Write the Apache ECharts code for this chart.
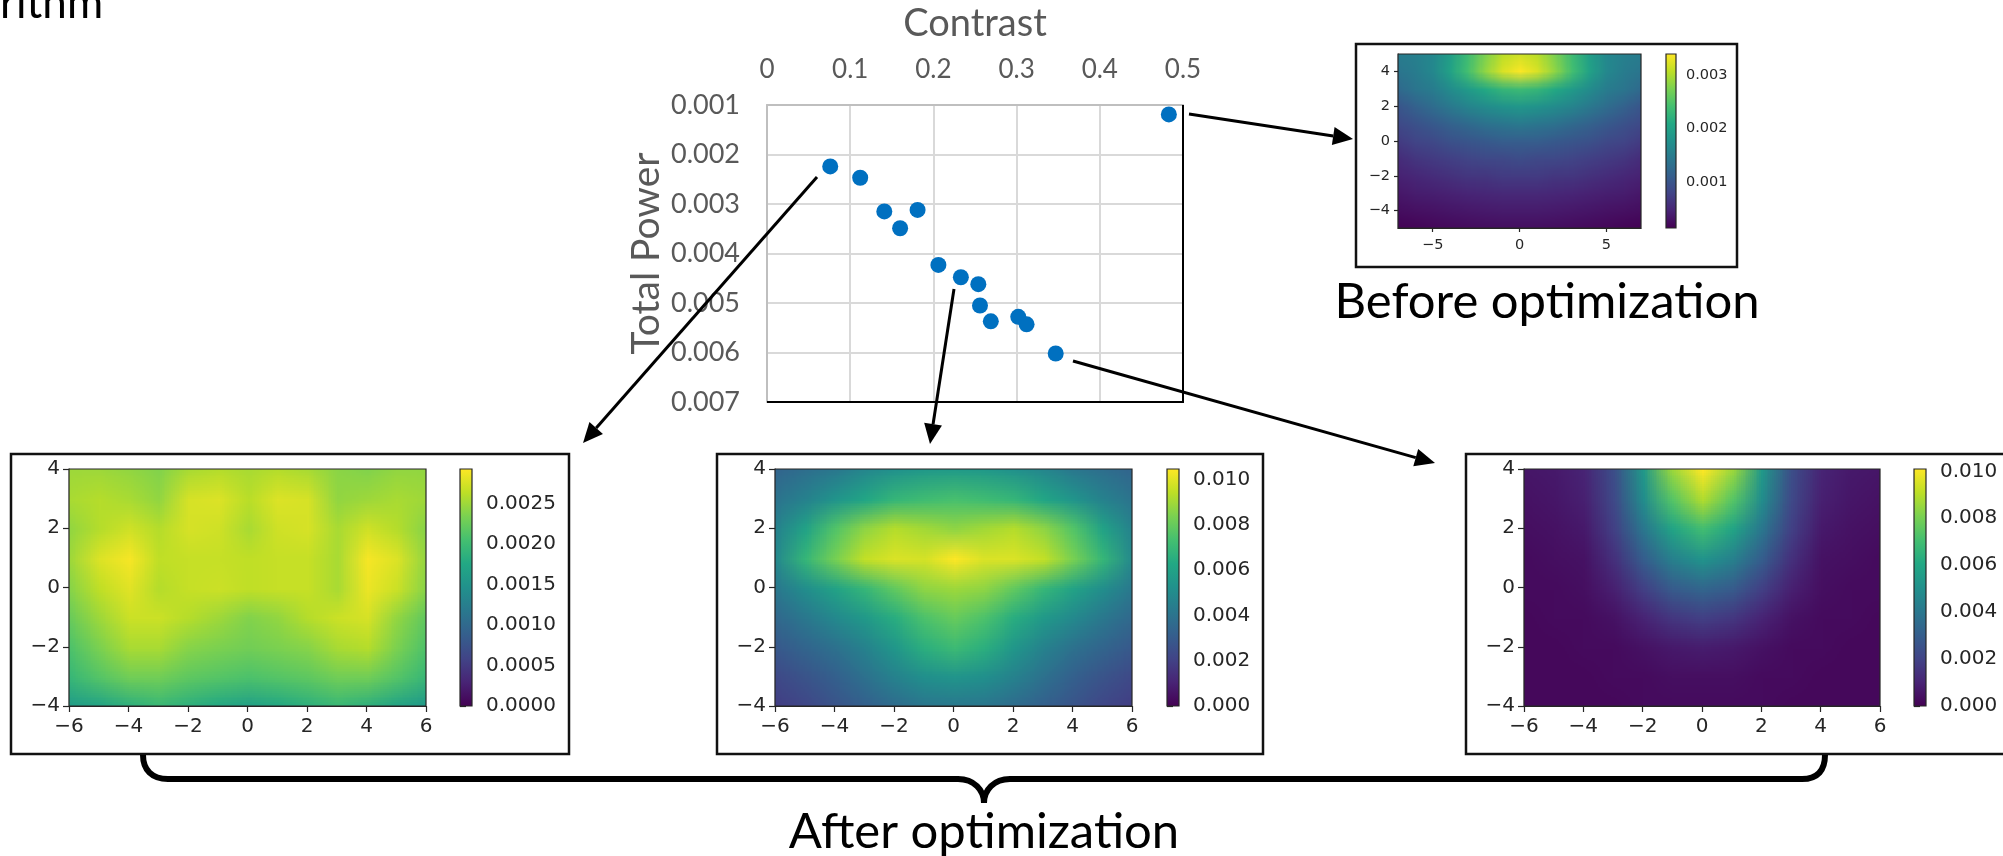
<!DOCTYPE html>
<html>
<head>
<meta charset="utf-8">
<style>
  html, body { margin: 0; padding: 0; background: #fff; overflow: hidden; }
  #main { width: 2003px; height: 856px; }
</style>
<script src="https://cdn.jsdelivr.net/npm/echarts@6/dist/echarts.min.js"></script>
</head>
<body>
<div id="main"></div>
<script>
// scatter: contrast vs total power
const contrast = [0.076, 0.112, 0.141, 0.181, 0.160, 0.206, 0.233, 0.254, 0.256, 0.269, 0.302, 0.312, 0.347, 0.483];
const totalPower = [0.00224, 0.00247, 0.00315, 0.00312, 0.00349, 0.00423, 0.00448, 0.00462, 0.00505, 0.00537, 0.00528, 0.00543, 0.00602, 0.00119];

// intensity maps, in units of 0.001, top row first
const xNodes = [-6, -5, -4, -3, -2, -1, 0, 1, 2, 3, 4, 5, 6];
const yNodes = [4, 3, 2, 1, 0, -1, -2, -3, -4];
const mapLeft = [
  [2.50, 2.50, 2.45, 2.38, 2.55, 2.60, 2.55, 2.60, 2.55, 2.42, 2.38, 2.45, 2.45],
  [2.55, 2.60, 2.55, 2.45, 2.75, 2.78, 2.62, 2.78, 2.75, 2.45, 2.50, 2.55, 2.50],
  [2.45, 2.60, 2.72, 2.60, 2.75, 2.72, 2.55, 2.72, 2.75, 2.55, 2.72, 2.60, 2.40],
  [2.50, 2.78, 2.90, 2.65, 2.68, 2.68, 2.65, 2.68, 2.68, 2.55, 2.90, 2.78, 2.45],
  [2.40, 2.65, 2.80, 2.60, 2.68, 2.70, 2.65, 2.68, 2.68, 2.55, 2.85, 2.70, 2.40],
  [2.25, 2.50, 2.70, 2.70, 2.60, 2.50, 2.38, 2.45, 2.60, 2.70, 2.75, 2.45, 2.20],
  [2.10, 2.35, 2.55, 2.55, 2.40, 2.35, 2.30, 2.35, 2.40, 2.55, 2.60, 2.35, 2.10],
  [1.95, 2.15, 2.30, 2.30, 2.20, 2.15, 2.10, 2.15, 2.20, 2.30, 2.30, 2.15, 1.95],
  [1.60, 1.70, 1.85, 1.95, 1.85, 1.75, 1.65, 1.75, 1.85, 1.95, 1.85, 1.70, 1.55]
];
const mapMiddle = [
  [3.4, 3.8, 4.2, 4.8, 5.3, 5.6, 5.7, 5.6, 5.3, 4.8, 4.2, 3.8, 3.4],
  [4.0, 4.6, 5.4, 6.2, 6.9, 7.2, 7.4, 7.2, 6.9, 6.2, 5.4, 4.6, 4.0],
  [4.6, 6.0, 7.6, 8.7, 9.3, 9.0, 8.7, 9.0, 9.3, 8.7, 7.6, 6.0, 4.6],
  [4.9, 6.9, 8.3, 9.5, 9.9, 9.8, 10.45, 9.9, 9.9, 9.5, 8.3, 6.9, 4.9],
  [4.2, 5.1, 6.0, 6.9, 7.9, 8.7, 8.9, 8.7, 7.9, 6.9, 6.0, 5.1, 4.2],
  [3.5, 4.2, 4.9, 5.6, 6.5, 7.5, 8.0, 7.5, 6.5, 5.6, 4.9, 4.2, 3.5],
  [2.9, 3.4, 3.9, 4.6, 5.5, 6.6, 7.1, 6.6, 5.5, 4.6, 3.9, 3.4, 2.9],
  [2.3, 2.7, 3.2, 3.9, 4.6, 5.2, 5.4, 5.2, 4.6, 3.9, 3.2, 2.7, 2.3],
  [1.9, 2.2, 2.7, 3.2, 3.7, 4.1, 4.2, 4.1, 3.7, 3.2, 2.7, 2.2, 1.9]
];
const mapRight = [
  [0.6, 0.7, 1.0, 2.4, 5.4, 8.6, 10.1, 8.6, 5.4, 2.4, 1.0, 0.7, 0.6],
  [0.5, 0.6, 0.9, 2.2, 4.9, 7.4, 8.9, 7.4, 4.9, 2.2, 0.9, 0.6, 0.5],
  [0.4, 0.5, 0.7, 1.9, 4.0, 5.9, 7.0, 5.9, 4.0, 1.9, 0.7, 0.5, 0.4],
  [0.3, 0.4, 0.5, 1.4, 3.0, 4.4, 5.2, 4.4, 3.0, 1.4, 0.5, 0.4, 0.3],
  [0.3, 0.3, 0.4, 0.9, 1.9, 2.9, 3.3, 2.9, 1.9, 0.9, 0.4, 0.3, 0.3],
  [0.2, 0.3, 0.3, 0.5, 1.0, 1.6, 1.9, 1.6, 1.0, 0.5, 0.3, 0.3, 0.2],
  [0.2, 0.2, 0.3, 0.3, 0.5, 0.7, 0.8, 0.7, 0.5, 0.3, 0.3, 0.2, 0.2],
  [0.2, 0.2, 0.2, 0.3, 0.3, 0.4, 0.4, 0.4, 0.3, 0.3, 0.2, 0.2, 0.2],
  [0.2, 0.2, 0.2, 0.2, 0.3, 0.3, 0.3, 0.3, 0.3, 0.2, 0.2, 0.2, 0.2]
];
const xNodesBefore = [-7, -6, -5, -4, -3, -2, -1, 0, 1, 2, 3, 4, 5, 6, 7];
const yNodesBefore = [5, 4, 3, 2, 1, 0, -1, -2, -3, -4, -5];
const mapBefore = [
  [1.50, 1.55, 1.65, 1.95, 2.35, 2.75, 3.05, 3.15, 3.05, 2.75, 2.35, 1.95, 1.65, 1.55, 1.50],
  [1.40, 1.50, 1.65, 2.00, 2.40, 2.85, 3.20, 3.38, 3.20, 2.85, 2.40, 2.00, 1.65, 1.50, 1.40],
  [1.25, 1.40, 1.50, 1.70, 1.90, 2.10, 2.28, 2.35, 2.28, 2.10, 1.90, 1.70, 1.50, 1.40, 1.25],
  [1.00, 1.15, 1.30, 1.45, 1.60, 1.70, 1.80, 1.85, 1.80, 1.70, 1.60, 1.45, 1.30, 1.15, 1.00],
  [0.85, 0.95, 1.05, 1.15, 1.25, 1.35, 1.40, 1.45, 1.40, 1.35, 1.25, 1.15, 1.05, 0.95, 0.85],
  [0.70, 0.80, 0.85, 0.95, 1.00, 1.05, 1.10, 1.10, 1.10, 1.05, 1.00, 0.95, 0.85, 0.80, 0.70],
  [0.55, 0.65, 0.70, 0.75, 0.80, 0.85, 0.85, 0.90, 0.85, 0.85, 0.80, 0.75, 0.70, 0.65, 0.55],
  [0.45, 0.50, 0.55, 0.60, 0.65, 0.65, 0.70, 0.70, 0.70, 0.65, 0.65, 0.60, 0.55, 0.50, 0.45],
  [0.35, 0.40, 0.42, 0.45, 0.48, 0.50, 0.52, 0.52, 0.52, 0.50, 0.48, 0.45, 0.42, 0.40, 0.35],
  [0.25, 0.28, 0.30, 0.33, 0.35, 0.37, 0.38, 0.38, 0.38, 0.37, 0.35, 0.33, 0.30, 0.28, 0.25],
  [0.15, 0.17, 0.20, 0.22, 0.24, 0.25, 0.26, 0.26, 0.26, 0.25, 0.24, 0.22, 0.20, 0.17, 0.15]
];

// colour bar ranges and ticks
const rangeLeft = [0, 2.93];
const rangeMiddle = [0, 10.47];
const rangeRight = [0, 10.1];
const rangeBefore = [0.143, 3.39];
const ticksLeft = [0, 0.5, 1, 1.5, 2, 2.5];
const ticksMiddle = [0, 2, 4, 6, 8, 10];
const ticksRight = [0, 2, 4, 6, 8, 10];
const ticksBefore = [1, 2, 3];

const viridis = ['#440154', '#482475', '#414487', '#355f8d', '#2a788e', '#21918c', '#22a884', '#44bf70', '#7ad151', '#bddf26', '#fde725'];
const minus = v => String(v).replace('-', '\u2212');

// matplotlib panels. box is the white frame, plot and bar are the axes rects
const panels = [
  { values: mapLeft, xs: xNodes, ys: yNodes, range: rangeLeft, ticks: ticksLeft, digits: 4,
    xTicks: [-6, -4, -2, 0, 2, 4, 6], yTicks: [-4, -2, 0, 2, 4],
    box: [11, 454, 558, 300], plot: [69, 469, 357, 237], bar: [460, 469, 12, 237], font: 20, tick: 6, gap: 9, barGap: 14 },
  { values: mapMiddle, xs: xNodes, ys: yNodes, range: rangeMiddle, ticks: ticksMiddle, digits: 3,
    xTicks: [-6, -4, -2, 0, 2, 4, 6], yTicks: [-4, -2, 0, 2, 4],
    box: [717, 454, 546, 300], plot: [775, 469, 357, 237], bar: [1167, 469, 12, 237], font: 20, tick: 6, gap: 9, barGap: 14 },
  { values: mapRight, xs: xNodes, ys: yNodes, range: rangeRight, ticks: ticksRight, digits: 3,
    xTicks: [-6, -4, -2, 0, 2, 4, 6], yTicks: [-4, -2, 0, 2, 4],
    box: [1466, 454, 560, 300], plot: [1524, 469, 356, 237], bar: [1914, 469, 12, 237], font: 20, tick: 6, gap: 9, barGap: 14 },
  { values: mapBefore, xs: xNodesBefore, ys: yNodesBefore, range: rangeBefore, ticks: ticksBefore, digits: 3,
    xTicks: [-5, 0, 5], yTicks: [-4, -2, 0, 2, 4],
    box: [1356, 44, 381, 223], plot: [1398, 54, 243, 174], bar: [1666, 54, 10, 174], font: 14.5, tick: 4, gap: 8, barGap: 10 }
];

// one small canvas per map, a pixel per value; the browser smooths it when scaled up
function valueCanvas(p) {
  const canvas = document.createElement('canvas');
  canvas.width = p.xs.length;
  canvas.height = p.ys.length;
  const ctx = canvas.getContext('2d');
  p.values.forEach((row, j) => {
    row.forEach((v, i) => {
      const t = (v - p.range[0]) / (p.range[1] - p.range[0]);
      ctx.fillStyle = echarts.color.lerp(Math.min(1, Math.max(0, t)), viridis);
      ctx.fillRect(i, j, 1, 1);
    });
  });
  return canvas;
}

const grids = [], xAxes = [], yAxes = [], series = [];

// scatter
grids.push({ left: 767, top: 105, width: 416, height: 297 });
xAxes.push({
  type: 'value', position: 'top', gridIndex: 0, min: 0, max: 0.5, interval: 0.1,
  name: 'Contrast', nameLocation: 'middle', nameGap: 62,
  nameTextStyle: { fontFamily: 'Lato', fontSize: 38, color: '#595959' },
  axisLine: { show: true, lineStyle: { color: '#bfbfbf', width: 2 } }, axisTick: { show: false },
  axisLabel: { show: true, fontFamily: 'Lato', fontSize: 26, color: '#595959', margin: 22, formatter: v => String(+v.toFixed(1)) },
  splitLine: { show: true, lineStyle: { color: '#d9d9d9', width: 2 } }
});
yAxes.push({
  type: 'value', gridIndex: 0, inverse: true, min: 0.001, max: 0.007, interval: 0.001,
  name: 'Total Power', nameLocation: 'middle', nameGap: 101, nameRotate: 90,
  nameTextStyle: { fontFamily: 'Lato', fontSize: 39, color: '#595959' },
  axisLine: { show: true, lineStyle: { color: '#bfbfbf', width: 2 } }, axisTick: { show: false },
  axisLabel: { show: true, fontFamily: 'Lato', fontSize: 27, color: '#595959', margin: 27, formatter: v => v.toFixed(3) },
  splitLine: { show: true, lineStyle: { color: '#d9d9d9', width: 2 } }
});
series.push({
  type: 'scatter', xAxisIndex: 0, yAxisIndex: 0, symbolSize: 16, z: 3,
  itemStyle: { color: '#0070c0', opacity: 1 },
  data: contrast.map((c, i) => [c, totalPower[i]])
});

const frameEls = [
  { type: 'line', z: 5, shape: { x1: 767, y1: 402, x2: 1184, y2: 402 }, style: { stroke: '#000', lineWidth: 2 } },
  { type: 'line', z: 5, shape: { x1: 1183, y1: 105, x2: 1183, y2: 403 }, style: { stroke: '#000', lineWidth: 2 } }
];
panels.forEach(p => {
  const canvas = valueCanvas(p);
  const ink = '#262626';
  const tickStyle = { show: true, length: p.tick, lineStyle: { color: ink, width: 1.2 } };
  const labelStyle = { fontFamily: 'DejaVu Sans', fontSize: p.font, color: ink };

  // map axes
  const idx = grids.length;
  grids.push({ left: p.plot[0], top: p.plot[1], width: p.plot[2], height: p.plot[3] });
  xAxes.push({
    type: 'value', gridIndex: idx, min: p.xs[0], max: p.xs[p.xs.length - 1],
    axisLine: { show: true, onZero: false, lineStyle: { color: ink, width: 1.2 } },
    axisTick: { ...tickStyle, customValues: p.xTicks },
    axisLabel: { ...labelStyle, margin: p.gap + 2, customValues: p.xTicks, formatter: minus },
    splitLine: { show: false }
  });
  yAxes.push({
    type: 'value', gridIndex: idx, min: p.ys[p.ys.length - 1], max: p.ys[0],
    axisLine: { show: true, onZero: false, lineStyle: { color: ink, width: 1.2 } },
    axisTick: { ...tickStyle, customValues: p.yTicks },
    axisLabel: { ...labelStyle, margin: p.gap, customValues: p.yTicks, formatter: minus },
    splitLine: { show: false }
  });
  const nodes = [];
  p.values.forEach((row, j) => row.forEach((v, i) => nodes.push([p.xs[i], p.ys[j], v, i, j])));
  series.push({
    type: 'custom', xAxisIndex: idx, yAxisIndex: idx, silent: true, z: 2,
    encode: { x: 0, y: 1 },
    data: nodes,
    renderItem: (params, api) => {
      const i = api.value(3), j = api.value(4);
      if (i === p.xs.length - 1 || j === p.ys.length - 1) return null;
      const a = api.coord([api.value(0), api.value(1)]);
      const b = api.coord([p.xs[i + 1], p.ys[j + 1]]);
      const x = Math.round(a[0]), y = Math.round(a[1]);
      return {
        type: 'image',
        style: { image: canvas, x: x, y: y, width: Math.round(b[0]) - x, height: Math.round(b[1]) - y, sx: i + 0.5, sy: j + 0.5, sWidth: 1, sHeight: 1 }
      };
    }
  });

  // colour bar axes
  const barIdx = grids.length;
  grids.push({ left: p.bar[0], top: p.bar[1], width: p.bar[2], height: p.bar[3] });
  xAxes.push({ type: 'value', gridIndex: barIdx, min: 0, max: 1, show: false });
  yAxes.push({
    type: 'value', gridIndex: barIdx, position: 'right', min: p.range[0], max: p.range[1],
    axisLine: { show: false },
    axisTick: { ...tickStyle, customValues: p.ticks },
    axisLabel: { ...labelStyle, margin: p.barGap, customValues: p.ticks, formatter: v => (v / 1000).toFixed(p.digits) },
    splitLine: { show: false }
  });
  series.push({
    type: 'custom', xAxisIndex: barIdx, yAxisIndex: barIdx, silent: true, z: 2,
    encode: { x: 0, y: [1, 2] },
    data: [[0, p.range[0], p.range[1]]],
    renderItem: (params, api) => {
      const a = api.coord([0, api.value(2)]);
      const b = api.coord([1, api.value(1)]);
      return {
        type: 'rect',
        shape: { x: a[0], y: a[1], width: b[0] - a[0], height: b[1] - a[1] },
        style: { fill: new echarts.graphic.LinearGradient(0, 1, 0, 0, viridis.map((c, k) => ({ offset: k / 10, color: c }))) }
      };
    }
  });

  frameEls.push({ type: 'rect', z: 0, shape: { x: p.box[0], y: p.box[1], width: p.box[2], height: p.box[3] }, style: { fill: '#fff', stroke: '#111', lineWidth: 2.5 } });
  frameEls.push({ type: 'rect', z: 5, shape: { x: p.plot[0], y: p.plot[1], width: p.plot[2], height: p.plot[3] }, style: { fill: 'none', stroke: ink, lineWidth: 1.2 } });
  frameEls.push({ type: 'rect', z: 5, shape: { x: p.bar[0], y: p.bar[1], width: p.bar[2], height: p.bar[3] }, style: { fill: 'none', stroke: ink, lineWidth: 1.2 } });
});

function arrow(x1, y1, x2, y2) {
  const a = Math.atan2(y2 - y1, x2 - x1), len = 20, half = 9;
  const bx = x2 - len * Math.cos(a), by = y2 - len * Math.sin(a);
  const nx = -Math.sin(a) * half, ny = Math.cos(a) * half;
  return [
    { type: 'line', z: 10, shape: { x1: x1, y1: y1, x2: bx, y2: by }, style: { stroke: '#000', lineWidth: 3 } },
    { type: 'polygon', z: 10, shape: { points: [[x2, y2], [bx + nx, by + ny], [bx - nx, by - ny]] }, style: { fill: '#000' } }
  ];
}

function curve(x1, y1, cx1, cy1, cx2, cy2, x2, y2) {
  return { type: 'bezierCurve', z: 1, shape: { x1, y1, cpx1: cx1, cpy1: cy1, cpx2: cx2, cpy2: cy2, x2, y2 }, style: { stroke: '#000', fill: 'none', lineWidth: 6 } };
}
function straight(x1, y1, x2, y2) {
  return { type: 'line', z: 1, shape: { x1, y1, x2, y2 }, style: { stroke: '#000', lineWidth: 6 } };
}
const brace = [
  curve(143, 755, 143, 770, 152, 779, 168, 779),
  straight(167, 779, 959, 779),
  curve(958, 779, 974, 779, 984, 790, 984, 803),
  curve(1010, 779, 994, 779, 984, 790, 984, 803),
  straight(1009, 779, 1803, 779),
  curve(1802, 779, 1818, 779, 1825, 770, 1825, 755)
];

// y is the text baseline
function caption(text, x, y, size, align) {
  return { type: 'text', z: 10, style: { text: text, x: x, y: y - 0.83 * size, fontFamily: 'Lato', fontSize: size, fill: '#000', align: align, verticalAlign: 'top' } };
}

const chart = echarts.init(document.getElementById('main'));
chart.setOption({
  animation: false,
  backgroundColor: '#fff',
  grid: grids,
  xAxis: xAxes,
  yAxis: yAxes,
  series: series,
  graphic: {
    elements: [
      ...frameEls,
      ...brace,
      ...arrow(1189, 114, 1353, 139),
      ...arrow(817, 177, 583, 443),
      ...arrow(954, 289, 930, 444),
      ...arrow(1073, 361, 1435, 463),
      caption('Before optimization', 1547, 318, 49, 'center'),
      caption('After optimization', 984, 848, 49, 'center'),
      caption('rithm', 0, 18, 44, 'left')
    ]
  }
});
</script>
</body>
</html>
